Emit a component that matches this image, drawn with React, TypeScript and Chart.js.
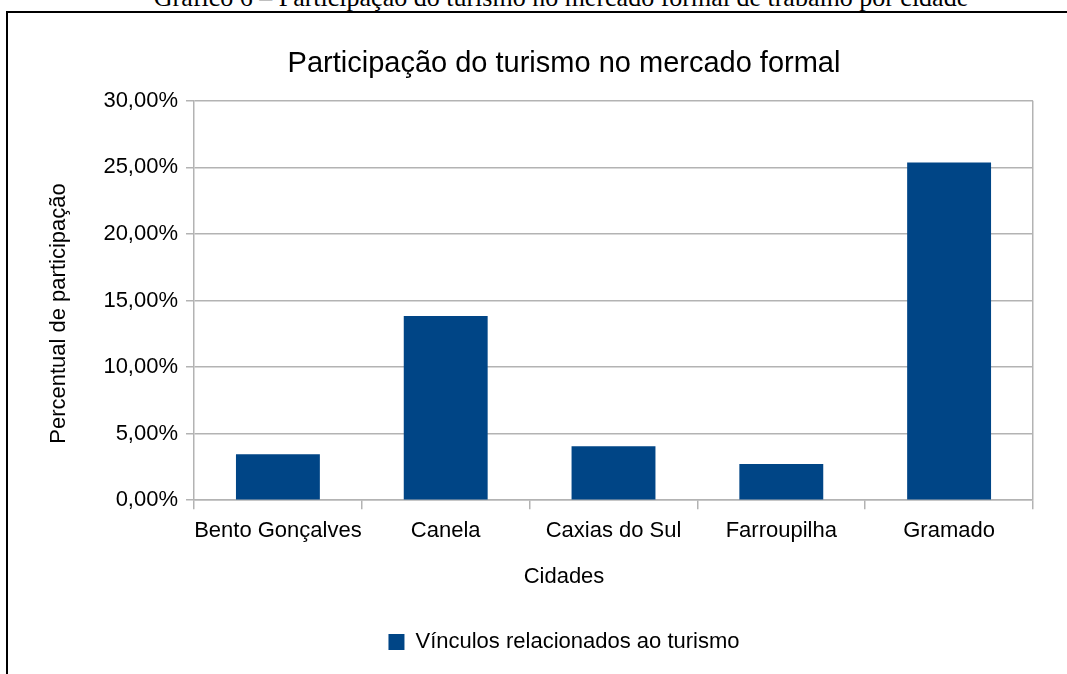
import React, { useEffect, useRef } from "react";
import { Chart, registerables } from "chart.js";

Chart.register(...registerables);

const cities = ["Bento Gonçalves", "Canela", "Caxias do Sul", "Farroupilha", "Gramado"];
const shares = [3.46, 13.83, 4.06, 2.71, 25.37];
const seriesLabel = "Vínculos relacionados ao turismo";
const chartTitle = "Participação do turismo no mercado formal";
const yTitle = "Percentual de participação";
const xTitle = "Cidades";
const caption = "Gráfico 6 – Participação do turismo no mercado formal de trabalho por cidade";

const FONT = "'Liberation Sans', Arial, sans-serif";
const GRID = "#b3b3b3";
const BAR = "#004586";
const CLEAR = "rgba(0,0,0,0)";

// Centre title, legend and axis titles on the whole canvas like the office chart does
const officeLayout = {
  id: "officeLayout",
  afterLayout(chart: any) {
    for (const box of [chart.titleBlock, chart.legend]) {
      if (!box) continue;
      box.left = 0;
      box.right = chart.width;
      box.width = chart.width;
    }
  },
  afterDraw(chart: any) {
    const xs = chart.scales.x;
    const ys = chart.scales.y;
    const ca = chart.chartArea;
    const ctx = chart.ctx;
    ctx.save();
    ctx.font = `22px ${FONT}`;
    ctx.fillStyle = "#000";
    ctx.textAlign = "center";
    ctx.textBaseline = "middle";
    ctx.fillText(xTitle, chart.width / 2, xs.bottom - 31 - 13.2);
    ctx.translate(ys.left + 15 + 13.2, (ca.top + ca.bottom) / 2 + 13);
    ctx.rotate(-Math.PI / 2);
    ctx.fillText(yTitle, 0, 0);
    ctx.restore();
  },
};

export default function App() {
  const ref = useRef<HTMLCanvasElement>(null);
  useEffect(() => {
    if (!ref.current) return;
    const chart = new Chart(ref.current, {
      type: "bar",
      data: {
        labels: cities,
        datasets: [
          {
            label: seriesLabel,
            data: shares,
            backgroundColor: BAR,
            borderWidth: 0,
            barPercentage: 0.5,
            categoryPercentage: 1,
          },
        ],
      },
      options: {
        responsive: false,
        animation: false,
        devicePixelRatio: 1,
        layout: { padding: { left: 22, right: 86, top: 0, bottom: 11 } },
        plugins: {
          title: {
            display: true,
            text: chartTitle,
            color: "#000",
            font: { family: FONT, size: 29, weight: "normal" },
            padding: { top: 34, bottom: 19 },
          },
          legend: {
            display: true,
            position: "bottom",
            labels: {
              boxWidth: 16,
              boxHeight: 16,
              padding: 10,
              color: "#000",
              font: { family: FONT, size: 22 },
            },
          },
          tooltip: { enabled: false },
        },
        scales: {
          x: {
            grid: {
              display: true,
              offset: true,
              color: (c: any) => (c.index === undefined ? GRID : CLEAR),
              tickColor: GRID,
              tickLength: 9,
              lineWidth: 1.5,
            },
            border: { display: true, color: GRID, width: 1.5 },
            ticks: {
              color: "#000",
              font: { family: FONT, size: 22 },
              padding: 9,
              maxRotation: 0,
              autoSkip: false,
            },
            title: {
              display: true,
              text: xTitle,
              color: CLEAR,
              font: { family: FONT, size: 22 },
              padding: { top: 10, bottom: 31 },
            },
          },
          y: {
            min: 0,
            max: 30,
            grid: { color: GRID, tickLength: 8, lineWidth: 1.5 },
            border: { display: true, color: GRID, width: 1.5 },
            ticks: {
              stepSize: 5,
              color: "#000",
              font: { family: FONT, size: 22 },
              padding: 8,
              callback: (v: any) => Number(v).toFixed(2).replace(".", ",") + "%",
            },
            title: {
              display: true,
              text: yTitle,
              color: CLEAR,
              font: { family: FONT, size: 22 },
              padding: { top: 15, bottom: 23 },
            },
          },
        },
      },
      plugins: [officeLayout],
    });
    return () => chart.destroy();
  }, []);

  return (
    <div
      style={{
        position: "fixed",
        left: 0,
        top: 0,
        width: 1067,
        height: 674,
        overflow: "hidden",
        background: "#fff",
      }}
    >
      <div
        style={{
          position: "absolute",
          left: 0,
          top: -15,
          width: 1122,
          textAlign: "center",
          fontFamily: "'Liberation Serif', 'Times New Roman', serif",
          fontSize: 26,
          lineHeight: "26px",
          color: "#000",
          whiteSpace: "nowrap",
        }}
      >
        {caption}
      </div>
      <div
        style={{
          position: "absolute",
          left: 6,
          top: 11,
          width: 1200,
          height: 800,
          border: "2px solid #000",
        }}
      />
      <canvas
        ref={ref}
        width={1110}
        height={661}
        style={{ position: "absolute", left: 9, top: 13, width: 1110, height: 661 }}
      />
    </div>
  );
}
